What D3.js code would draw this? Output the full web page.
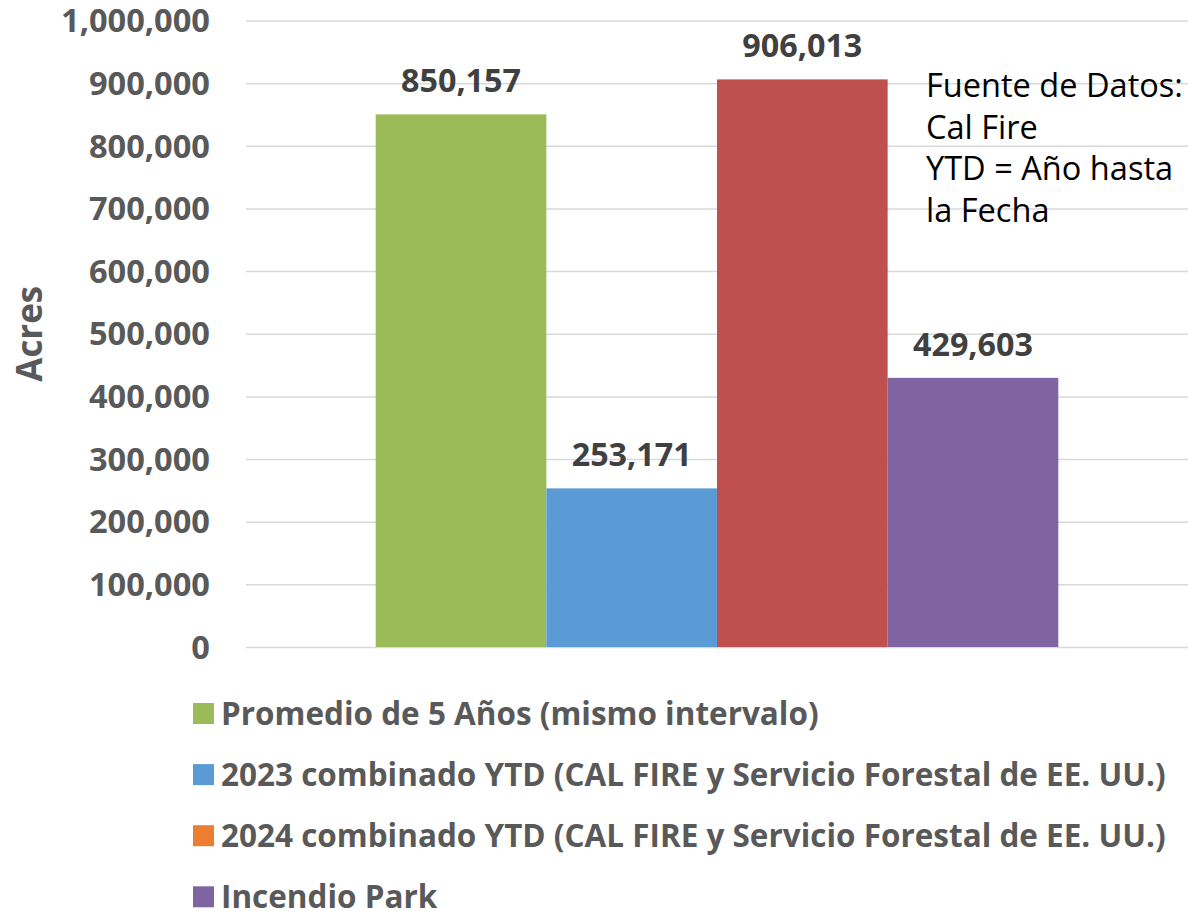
<!DOCTYPE html>
<html>
<head>
<meta charset="utf-8">
<script src="https://cdn.jsdelivr.net/npm/d3@7"></script>
<style>
  html, body { margin: 0; padding: 0; background: #fff; }
  svg { display: block; font-family: "Open Sans", sans-serif; }
</style>
</head>
<body>
<svg id="chart" width="1188" height="911"></svg>
<script>
// ---- data ----
const seriesNames = [
  "Promedio de 5 Años (mismo intervalo)",
  "2023 combinado YTD (CAL FIRE y Servicio Forestal de EE. UU.)",
  "2024 combinado YTD (CAL FIRE y Servicio Forestal de EE. UU.)",
  "Incendio Park"
];
const seriesValues = [850157, 253171, 906013, 429603];
const barColors = ["#9BBB59", "#5B9BD5", "#C0504D", "#8064A2"];
const legendColors = ["#9BBB59", "#5B9BD5", "#ED7D31", "#8064A2"];
const yTicks = [0, 100000, 200000, 300000, 400000, 500000, 600000, 700000, 800000, 900000, 1000000];
const axisTitle = "Acres";
const noteLines = ["Fuente de Datos:", "Cal Fire", "YTD = Año hasta", "la Fecha"];

const svg = d3.select("#chart");
const fmt = d3.format(",");

// helper: font size so that a string reaches a target width
function fitSize(text, weight, target) {
  const t = svg.append("text").attr("font-size", 100).attr("font-weight", weight).text(text);
  const w = t.node().getComputedTextLength();
  t.remove();
  return 100 * target / w;
}

const plotLeft = 246, plotRight = 1188, plotTop = 20.5, plotBottom = 647;

const y = d3.scaleLinear().domain([0, 1000000]).range([plotBottom, plotTop]);
const xGroup = d3.scaleBand().domain(["g"]).range([plotLeft, plotRight]).paddingOuter(0.19).paddingInner(0);
const xSeries = d3.scaleBand().domain(d3.range(seriesValues.length))
  .range([xGroup("g"), xGroup("g") + xGroup.bandwidth()]).padding(0);

// gridlines
const yAxis = d3.axisLeft(y).tickValues(yTicks).tickSize(-(plotRight - plotLeft)).tickFormat("");
const ga = svg.append("g").attr("transform", `translate(${plotLeft},0)`).call(yAxis);
ga.select(".domain").remove();
ga.selectAll(".tick line").attr("stroke", "#D9D9D9").attr("stroke-width", 1.5);

// tick labels
const tickSize = fitSize("1,000,000", "bold", 149);
svg.append("g").selectAll("text").data(yTicks).join("text")
  .attr("x", 210)
  .attr("y", d => y(d))
  .attr("dy", "0.36em")
  .attr("text-anchor", "end")
  .attr("font-weight", "bold")
  .attr("font-size", tickSize)
  .attr("fill", "#595959")
  .text(d => fmt(d));

// axis title
const titleSize = fitSize(axisTitle, "bold", 96);
svg.append("text")
  .attr("transform", `translate(42,${(plotTop + plotBottom) / 2}) rotate(-90)`)
  .attr("text-anchor", "middle")
  .attr("font-weight", "bold")
  .attr("font-size", titleSize)
  .attr("fill", "#595959")
  .text(axisTitle);

// bars
svg.append("g").selectAll("rect").data(seriesValues).join("rect")
  .attr("x", (d, i) => xSeries(i))
  .attr("width", xSeries.bandwidth())
  .attr("y", d => y(d))
  .attr("height", d => plotBottom - y(d))
  .attr("fill", (d, i) => barColors[i]);

// data labels
const labelSize = fitSize("850,157", "bold", 120);
svg.append("g").selectAll("text").data(seriesValues).join("text")
  .attr("x", (d, i) => xSeries(i) + xSeries.bandwidth() / 2)
  .attr("y", d => y(d) - 22)
  .attr("text-anchor", "middle")
  .attr("font-weight", "bold")
  .attr("font-size", labelSize)
  .attr("fill", "#404040")
  .text(d => fmt(d));

// note
const noteSize = fitSize(noteLines[0], "normal", 257);
svg.append("text")
  .attr("x", 926)
  .attr("font-size", noteSize)
  .attr("fill", "#000")
  .selectAll("tspan").data(noteLines).join("tspan")
  .attr("x", 926)
  .attr("y", (d, i) => 97 + i * 41.7)
  .text(d => d);

// legend
const legSize = fitSize(seriesNames[1], "bold", 945);
const leg = svg.append("g").selectAll("g").data(seriesNames).join("g")
  .attr("transform", (d, i) => `translate(193,${703 + i * 61.1})`);
leg.append("rect").attr("width", 21).attr("height", 21).attr("fill", (d, i) => legendColors[i]);
leg.append("text")
  .attr("x", 28)
  .attr("y", 22)
  .attr("font-weight", "bold")
  .attr("font-size", legSize)
  .attr("fill", "#595959")
  .text(d => d);
</script>
</body>
</html>
